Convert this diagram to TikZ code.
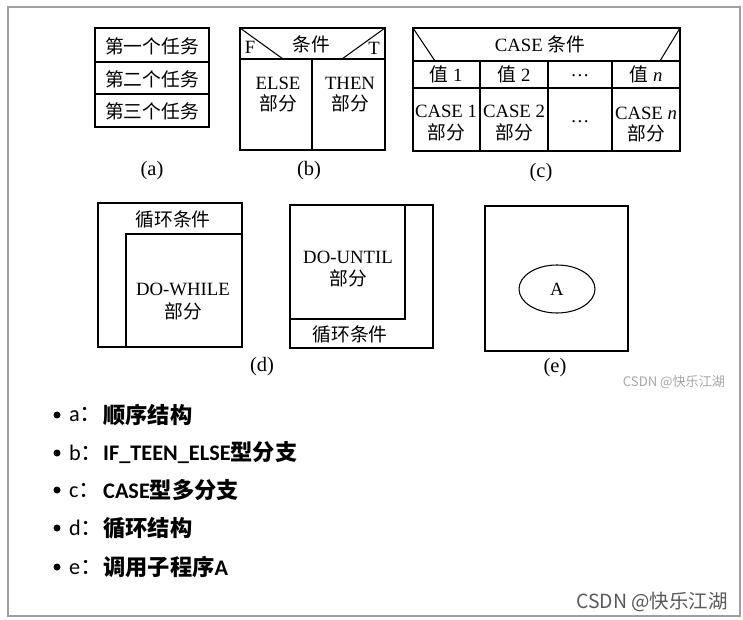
\documentclass[tikz,border=0pt]{standalone}
\usepackage{fontspec}
\setmainfont{Liberation Serif}
\newfontfamily\cjk{Noto Sans CJK SC}
\newfontfamily\lat{Carlito}
\newcommand{\zh}[1]{{\cjk #1}}
\newcommand{\la}[1]{{\lat #1}}
\usetikzlibrary{positioning,shapes.geometric}
\tikzset{
  box/.style={line width=0.9pt},
  txt/.style={inner sep=0, font=\fontsize{16}{18}\selectfont},
  sublabel/.style={inner sep=0, font=\fontsize{17.5}{19}\selectfont},
  item/.style={inner sep=0, anchor=west, font=\cjk\fontsize{19}{21}\selectfont},
}
\begin{document}
\begin{tikzpicture}[x=0.03cm, y=-0.03cm]
  \useasboundingbox (0,0) rectangle (743,620);
  \draw[gray!75, line width=1pt] (8,7) rectangle (740,616);
  % (a)
  \draw[box] (95,28) rectangle (209,127);
  \draw[box] (95,62) -- (209,62);
  \draw[box] (95,94) -- (209,94);
  \node[txt] (a1) at (152,46) {\zh{第一个任务}};
  \node[txt] (a2) at (152,79) {\zh{第二个任务}};
  \node[txt] (a3) at (152,111) {\zh{第三个任务}};
  \node[sublabel] (capa) at (152,171) {(a)};
  % (b)
  \draw[box] (240,28) rectangle (385,150);
  \draw[box] (240,59) -- (385,59);
  \draw[box] (312,59) -- (312,150);
  \draw[box] (240,28) -- (283,59);
  \draw[box] (385,28) -- (342,59);
  \node[txt] (bf) at (250,47) {F};
  \node[txt] (bt) at (374,48) {T};
  \node[txt] (bcond) at (311,44) {\zh{条件}};
  \node[txt] (belse) at (278,83) {ELSE};
  \node[txt] (belsep) at (278,103) {\zh{部分}};
  \node[txt] (bthen) at (350,83) {THEN};
  \node[txt] (bthenp) at (350,103) {\zh{部分}};
  \node[sublabel] (capb) at (309,171) {(b)};
  % (c)
  \draw[box] (413,28) rectangle (680,151);
  \draw[box] (413,61) -- (680,61);
  \draw[box] (413,88) -- (680,88);
  \draw[box] (480,61) -- (480,151);
  \draw[box] (548,61) -- (548,151);
  \draw[box] (612,61) -- (612,151);
  \draw[box] (413,28) -- (435,61);
  \draw[box] (680,28) -- (660,61);
  \node[txt] (ccond) at (540,44) {CASE \zh{条件}};
  \node[txt] (cv1) at (446,74) {\zh{值} 1};
  \node[txt] (cv2) at (514,74) {\zh{值} 2};
  \node[txt] (cvd) at (580,76) {…};
  \node[txt] (cvn) at (646,74) {\zh{值} \textit{n}};
  \node[txt] (cc1) at (446,111) {CASE 1};
  \node[txt] (cc1p) at (446,132) {\zh{部分}};
  \node[txt] (cc2) at (514,111) {CASE 2};
  \node[txt] (cc2p) at (514,132) {\zh{部分}};
  \node[txt] (ccd) at (580,122) {…};
  \node[txt] (ccn) at (646,113) {CASE \textit{n}};
  \node[txt] (ccnp) at (646,133) {\zh{部分}};
  \node[sublabel] (capc) at (541,173) {(c)};
  % (d)
  \draw[box] (98,203) rectangle (242,347);
  \draw[box] (126,347) -- (126,234) -- (242,234);
  \node[txt] (dwc) at (173,219) {\zh{循环条件}};
  \node[txt] (dw) at (183,289) {DO-WHILE};
  \node[txt] (dwp) at (183,311) {\zh{部分}};
  \draw[box] (290,205) rectangle (433,348);
  \draw[box] (405,205) -- (405,319) -- (290,319);
  \node[txt] (du) at (348,257) {DO-UNTIL};
  \node[txt] (dup) at (348,278) {\zh{部分}};
  \node[txt] (duc) at (350,334) {\zh{循环条件}};
  \node[sublabel] (capd) at (262,367) {(d)};
  % (e)
  \draw[box] (485,206) rectangle (628,351);
  \node[draw, line width=0.9pt, ellipse, minimum width=76*0.03cm,
    minimum height=48*0.03cm, inner sep=0] (sub) at (557,289) {};
  \node[txt] (suba) at (sub) {A};
  \node[sublabel] (cape) at (555,368) {(e)};
  \node[inner sep=0, text=gray!70, font=\cjk\fontsize{11.2}{12}\selectfont]
    (wm1) at (674,382) {CSDN @快乐江湖};
  % legend
  \foreach \y/\k/\t [count=\i] in {415/a/顺序结构, 453/b/{\la{IF\_TEEN\_ELSE}型分支},
      490/c/{\la{CASE}型多分支}, 528/d/循环结构, 567/e/{调用子程序\la{A}}} {
    \fill (57,\y) circle (3.5);
    \node[item] (key\i) at (69,\y) {\la{\k}：};
    \node[item, font=\cjk\bfseries\fontsize{19}{21}\selectfont] (val\i) at (103,\y) {\t};
  }
  \node[inner sep=0, text=black!65, font=\cjk\fontsize{16.6}{18}\selectfont]
    (wm2) at (652,602) {CSDN @快乐江湖};
\end{tikzpicture}
\end{document}
